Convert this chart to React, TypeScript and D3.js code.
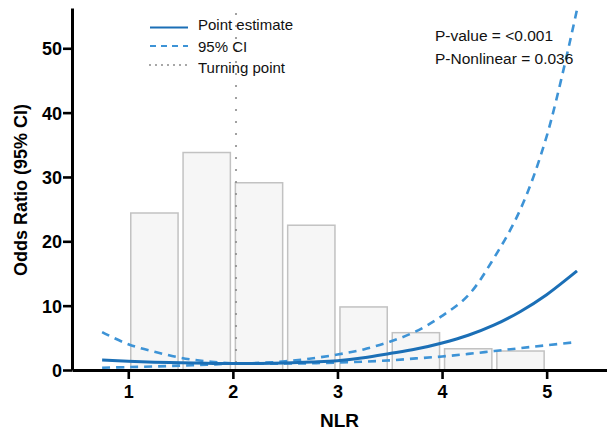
import React, { useEffect, useRef } from 'react'
import * as d3 from 'd3'

// histogram bins of NLR (left edges, width 0.5) and their heights on the OR scale
const binStarts = [1.0, 1.5, 2.0, 2.5, 3.0, 3.5, 4.0, 4.5]
const binHeights = [24.4, 33.8, 29.1, 22.5, 9.8, 5.8, 3.3, 2.95]

// spline curve
const nlr = [0.75, 1.0, 1.25, 1.5, 1.75, 2.0, 2.25, 2.5, 2.75, 3.0, 3.25, 3.5, 3.75, 4.0, 4.25, 4.5, 4.75, 5.0, 5.29]
const pointEstimate = [1.55, 1.35, 1.22, 1.12, 1.04, 1.0, 1.02, 1.1, 1.25, 1.45, 1.9, 2.55, 3.25, 4.2, 5.4, 7.0, 9.1, 11.7, 15.4]
const upperCI = [5.9, 4.0, 2.85, 1.9, 1.35, 1.02, 1.1, 1.35, 1.8, 2.4, 3.2, 4.4, 6.0, 8.4, 11.6, 17.5, 25.0, 36.3, 56.0]
const lowerCI = [0.35, 0.45, 0.55, 0.68, 0.82, 0.98, 0.98, 1.0, 1.05, 1.15, 1.3, 1.5, 1.8, 2.1, 2.5, 2.95, 3.4, 3.85, 4.35]

const turningPoint = 2.03
const xTicks = [1, 2, 3, 4, 5]
const yTicks = [0, 10, 20, 30, 40, 50]

const legendItems = [
    { label: 'Point estimate', kind: 'solid' },
    { label: '95% CI', kind: 'dashed' },
    { label: 'Turning point', kind: 'dotted' },
]
const statLines = ['P-value = <0.001', 'P-Nonlinear = 0.036']

const FONT = '"Liberation Sans", Arial, Helvetica, sans-serif'
const SOLID = '#1b6fb6'
const DASHED = '#3d93d6'

function App() {
    const ref = useRef<SVGSVGElement | null>(null)

    useEffect(() => {
        const width = 607, height = 432
        const left = 72, right = 607, top = 8, bottom = 370

        const svg = d3.select(ref.current)
        svg.selectAll('*').remove()
        svg.style('font-family', FONT)

        const x = d3.scaleLinear().domain([0.462, 5.577]).range([left, right])
        const y = d3.scaleLinear().domain([0, 56.26]).range([bottom, top])

        // bars
        const binW = 0.5
        svg.append('g')
            .selectAll('rect')
            .data(binStarts.map((s, i) => ({ s, h: binHeights[i] })))
            .join('rect')
            .attr('x', d => x(d.s) + 2.5)
            .attr('width', d => x(d.s + binW) - x(d.s) - 5)
            .attr('y', d => y(d.h))
            .attr('height', d => y(0) - y(d.h))
            .attr('fill', '#f6f6f6')
            .attr('stroke', '#c2c2c2')
            .attr('stroke-width', 1.5)

        // turning point
        svg.append('line')
            .attr('x1', x(turningPoint)).attr('x2', x(turningPoint))
            .attr('y1', 14).attr('y2', bottom)
            .attr('stroke', '#8c8c8c')
            .attr('stroke-width', 2.2)
            .attr('stroke-linecap', 'round')
            .attr('stroke-dasharray', '0 12')

        const line = (vals: number[]) => d3.line<number>()
            .x((_, i) => x(nlr[i]))
            .y(d => y(d))
            .curve(d3.curveCatmullRom.alpha(0.5))(vals)

        svg.append('path').attr('d', line(upperCI)).attr('fill', 'none')
            .attr('stroke', DASHED).attr('stroke-width', 2.6).attr('stroke-dasharray', '8 6')
        svg.append('path').attr('d', line(lowerCI)).attr('fill', 'none')
            .attr('stroke', DASHED).attr('stroke-width', 2.6).attr('stroke-dasharray', '8 6')
        svg.append('path').attr('d', line(pointEstimate)).attr('fill', 'none')
            .attr('stroke', SOLID).attr('stroke-width', 3)

        // axes
        const xAxis = svg.append('g')
            .attr('transform', `translate(0,${bottom})`)
            .call(d3.axisBottom(x).tickValues(xTicks).tickFormat(d3.format('d')).tickSize(9).tickPadding(6).tickSizeOuter(0))
        const yAxis = svg.append('g')
            .attr('transform', `translate(${left},0)`)
            .call(d3.axisLeft(y).tickValues(yTicks).tickFormat(d3.format('d')).tickSize(9).tickPadding(1).tickSizeOuter(0))

        for (const ax of [xAxis, yAxis]) {
            ax.select('.domain').attr('stroke', '#000').attr('stroke-width', 3)
            ax.selectAll('.tick line').attr('stroke', '#000').attr('stroke-width', 2.6)
            ax.selectAll('.tick text')
                .attr('fill', '#000')
                .style('font-family', FONT)
                .style('font-size', '18px')
                .style('font-weight', 'bold')
        }
        yAxis.selectAll('.tick text').attr('dy', '0.36em')

        svg.append('text')
            .attr('x', (left + right) / 2)
            .attr('y', 427)
            .attr('text-anchor', 'middle')
            .style('font-size', '19px')
            .style('font-weight', 'bold')
            .text('NLR')

        svg.append('text')
            .attr('transform', `translate(27,190) rotate(-90)`)
            .attr('text-anchor', 'middle')
            .style('font-size', '18px')
            .style('font-weight', 'bold')
            .text('Odds Ratio (95% CI)')

        // legend
        const lg = svg.append('g')
        const lineYs = [27.5, 46, 65]
        const textYs = [30, 52, 72.5]
        legendItems.forEach((it, i) => {
            const l = lg.append('line')
                .attr('x1', 150).attr('x2', 188)
                .attr('y1', lineYs[i]).attr('y2', lineYs[i])
            if (it.kind === 'solid') l.attr('stroke', SOLID).attr('stroke-width', 2)
            if (it.kind === 'dashed') l.attr('stroke', DASHED).attr('stroke-width', 2).attr('stroke-dasharray', '6 5')
            if (it.kind === 'dotted') l.attr('stroke', '#333').attr('stroke-width', 1.6)
                .attr('stroke-linecap', 'round').attr('stroke-dasharray', '0 6')
            lg.append('text')
                .attr('x', 198).attr('y', textYs[i])
                .style('font-size', '15px')
                .attr('fill', '#111')
                .text(it.label)
        })

        statLines.forEach((s, i) => {
            svg.append('text')
                .attr('x', 435).attr('y', 40.5 + i * 23.5)
                .style('font-size', '15.5px')
                .attr('fill', '#111')
                .text(s)
        })

        svg.attr('width', width).attr('height', height)
    }, [])

    return (
        <svg ref={ref} width={607} height={432}
            style={{ position: 'absolute', left: 0, top: 0, background: '#fff' }} />
    )
}

export default App
